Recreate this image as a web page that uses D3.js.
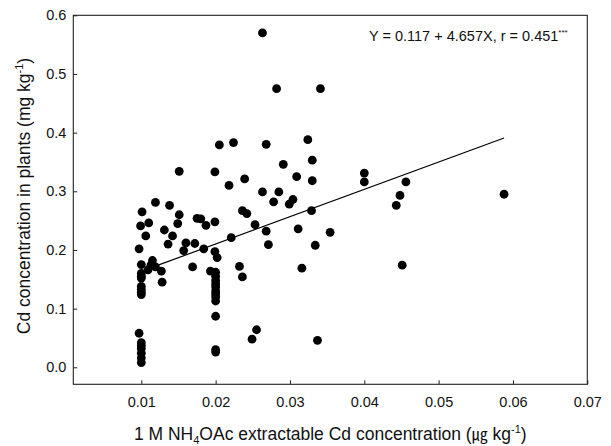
<!DOCTYPE html>
<html><head><meta charset="utf-8">
<script src="https://cdn.jsdelivr.net/npm/d3@7"></script>
<style>body{margin:0;background:#fff;}svg{display:block;}text{font-family:"Liberation Sans",Arial,sans-serif;fill:#111;}</style>
</head><body>
<svg id="chart" width="611" height="446"></svg>
<script>
const xValues = [0.0263,0.0282,0.0341,0.0205,0.0224,0.0268,0.0324,0.0151,0.0199,0.0291,0.0330,0.0239,0.0309,0.0330,0.0218,0.0263,0.0285,
0.0119,0.0138,0.0101,0.0151,0.0278,0.0299,0.0304,0.0236,0.0242,0.0099,0.0110,0.0149,0.0175,0.0180,0.0187,0.0199,0.0253,0.0329,0.0311,0.0354,0.0268,
0.0131,0.0106,0.0142,0.0221,0.0136,0.0160,0.0172,0.0157,0.0184,0.0271,0.0334,0.0097,0.0199,0.0202,0.0115,0.0113,0.0119,0.0109,0.0127,0.0128,0.0100,
0.0100,0.0100,0.0100,0.0100,0.0100,0.0100,0.0100,
0.0169,0.0232,0.0236,0.0316,
0.0193,0.0200,0.0200,0.0200,0.0200,0.0200,0.0200,0.0200,0.0200,0.0200,0.0200,0.0200,0.0200,
0.0255,0.0249,0.0337,
0.0097,0.0100,0.0100,0.0100,0.0100,0.0100,0.0100,
0.0400,0.0400,0.0456,0.0448,0.0588,0.0443,0.0451];
const yValues = [0.570,0.475,0.475,0.379,0.383,0.380,0.388,0.334,0.333,0.346,0.353,0.321,0.325,0.318,0.310,0.299,0.299,
0.281,0.276,0.265,0.260,0.282,0.278,0.286,0.267,0.262,0.241,0.246,0.245,0.254,0.253,0.242,0.248,0.243,0.267,0.236,0.230,0.232,
0.234,0.224,0.224,0.221,0.210,0.212,0.211,0.199,0.202,0.209,0.208,0.202,0.197,0.187,0.182,0.174,0.171,0.166,0.164,0.145,0.175,
0.160,0.155,0.152,0.138,0.133,0.128,0.124,
0.171,0.172,0.154,0.169,
0.164,0.162,0.155,0.148,0.142,0.137,0.130,0.125,0.120,0.113,0.087,0.030,0.026,
0.064,0.048,0.046,
0.058,0.042,0.037,0.032,0.024,0.016,0.008,
0.331,0.316,0.316,0.293,0.295,0.276,0.174];
const xTicks = [0.01,0.02,0.03,0.04,0.05,0.06,0.07];
const yTicks = [0.0,0.1,0.2,0.3,0.4,0.5,0.6];
const intercept = 0.117, slope = 4.657;
const lineX = [0.0118, 0.0588];

const svg = d3.select("#chart");
svg.append("rect").attr("width",611).attr("height",446).attr("fill","#fff");
const L=73.3, R=587.3, T=15.3, B=384.3;
const x = d3.scaleLinear().domain([0.00085,0.07]).range([L,R]);
const y = d3.scaleLinear().domain([-0.029,0.6]).range([B,T]);

// frame
svg.append("rect").attr("x",L).attr("y",T).attr("width",R-L).attr("height",B-T)
  .attr("fill","none").attr("stroke","#222").attr("stroke-width",1.1);

// axes with inward ticks
const xAxis = svg.append("g").attr("transform",`translate(0,${B})`)
  .call(d3.axisBottom(x).tickValues(xTicks).tickSize(-4).tickPadding(12).tickFormat(d3.format(".2f")));
const yAxis = svg.append("g").attr("transform",`translate(${L},0)`)
  .call(d3.axisLeft(y).tickValues(yTicks).tickSize(-4).tickPadding(7).tickFormat(d3.format(".1f")));
[xAxis,yAxis].forEach(g=>{
  g.select(".domain").remove();
  g.selectAll(".tick line").attr("stroke","#222");
  g.selectAll(".tick text").attr("font-size","14.5px").attr("fill","#111")
   .attr("font-family","'Liberation Sans',Arial,sans-serif");
});

// points
svg.append("g").selectAll("circle").data(xValues.map((v,i)=>[v,yValues[i]])).join("circle")
  .attr("cx",d=>x(d[0])).attr("cy",d=>y(d[1])).attr("r",4.4).attr("fill","#000");

// regression line
svg.append("line")
  .attr("x1",x(lineX[0])).attr("y1",y(intercept+slope*lineX[0]))
  .attr("x2",x(lineX[1])).attr("y2",y(intercept+slope*lineX[1]))
  .attr("stroke","#000").attr("stroke-width",1.2);

// equation
const eq = svg.append("text").attr("x",369).attr("y",40.5).attr("font-size","14.5px");
eq.append("tspan").text("Y = 0.117 + 4.657X, r = 0.451");
eq.append("tspan").attr("dy",-6).attr("font-size","8px").text("***");

// x title
const xt = svg.append("text").attr("x",(L+R)/2).attr("y",440).attr("text-anchor","middle").attr("font-size","17.5px");
xt.append("tspan").text("1 M NH");
xt.append("tspan").attr("dy",4).attr("font-size","11px").text("4");
xt.append("tspan").attr("dy",-4).text("OAc extractable Cd concentration (");
xt.append("tspan").attr("font-family","'Noto Sans CJK KR',sans-serif").attr("font-size","16px").text("㎍");
xt.append("tspan").text(" kg");
xt.append("tspan").attr("dy",-7).attr("font-size","11px").text("-1");
xt.append("tspan").attr("dy",7).text(")");

// y title
const yt = svg.append("text").attr("transform",`translate(30,196) rotate(-90)`)
  .attr("text-anchor","middle").attr("font-size","17.5px");
yt.append("tspan").text("Cd concentration in plants (mg kg");
yt.append("tspan").attr("dy",-7).attr("font-size","11px").text("-1");
yt.append("tspan").attr("dy",7).text(")");
</script>
</body></html>
